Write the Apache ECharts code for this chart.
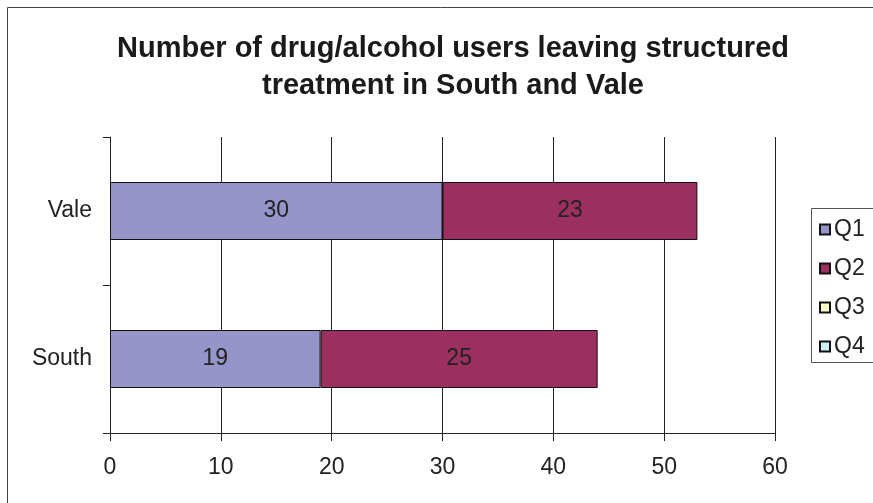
<!DOCTYPE html>
<html>
<head>
<meta charset="utf-8">
<script src="https://cdn.jsdelivr.net/npm/echarts@6/dist/echarts.min.js"></script>
<style>
html,body{margin:0;padding:0;background:#fff;}
#chart{width:873px;height:503px;}
</style>
</head>
<body>
<div id="chart"></div>
<script>
const categories = ['South', 'Vale'];
const seriesNames = ['Q1', 'Q2', 'Q3', 'Q4'];
const q1 = [19, 30];
const q2 = [25, 23];
const q3 = [null, null];
const q4 = [null, null];
const xTicks = [0, 10, 20, 30, 40, 50, 60];
const colors = ['#9595C9', '#9A2F60', '#FFFFCC', '#CCF2F8'];
const titleText = 'Number of drug/alcohol users leaving structured\ntreatment in South and Vale';

const FONT = '"Liberation Sans", Arial, sans-serif';
const chart = echarts.init(document.getElementById('chart'), null, {renderer: 'canvas'});
const values = [q1, q2, q3, q4];

chart.setOption({
  animation: false,
  backgroundColor: '#fff',
  title: {
    text: titleText,
    left: 448,
    textAlign: 'center',
    top: 25,
    textStyle: {fontFamily: FONT, fontSize: 29, fontWeight: 'bold', color: '#1a1a1a', lineHeight: 37}
  },
  graphic: [{
    type: 'rect',
    shape: {x: 7.5, y: 7.5, width: 1000, height: 1000},
    style: {fill: 'none', stroke: '#444', lineWidth: 1},
    silent: true
  }, {
    type: 'rect',
    shape: {x: 811.5, y: 208.5, width: 200, height: 154},
    style: {fill: 'none', stroke: '#555', lineWidth: 1},
    silent: true
  }],
  legend: {
    orient: 'vertical',
    left: 811,
    top: 208,
    data: seriesNames,
    itemWidth: 10,
    itemHeight: 10,
    itemGap: 16,
    padding: [10, 8, 10, 8],
    icon: 'rect',
    textStyle: {fontFamily: FONT, fontSize: 23, color: '#222', padding: [0, 0, 0, -1]}
  },
  grid: {left: 110, right: 98, top: 137, bottom: 70, containLabel: false},
  xAxis: {
    type: 'value',
    min: xTicks[0],
    max: xTicks[xTicks.length - 1],
    interval: 10,
    axisLine: {show: true, lineStyle: {color: '#222', width: 1}},
    axisTick: {show: true, length: 8, lineStyle: {color: '#222'}},
    splitLine: {show: true, lineStyle: {color: '#222', width: 1}},
    axisLabel: {fontFamily: FONT, fontSize: 23, color: '#222', margin: 23}
  },
  yAxis: {
    type: 'category',
    data: categories,
    axisLine: {show: true, lineStyle: {color: '#222', width: 1}},
    axisTick: {show: true, length: 7, lineStyle: {color: '#222'}},
    axisLabel: {fontFamily: FONT, fontSize: 23, color: '#222', margin: 18}
  },
  series: seriesNames.map((name, i) => ({
    name: name,
    type: 'bar',
    stack: 'total',
    data: values[i],
    barWidth: 58,
    itemStyle: {color: colors[i], borderColor: '#111', borderWidth: 1},
    label: {show: true, position: 'inside', fontFamily: FONT, fontSize: 23, color: '#222'}
  }))
});
</script>
</body>
</html>
